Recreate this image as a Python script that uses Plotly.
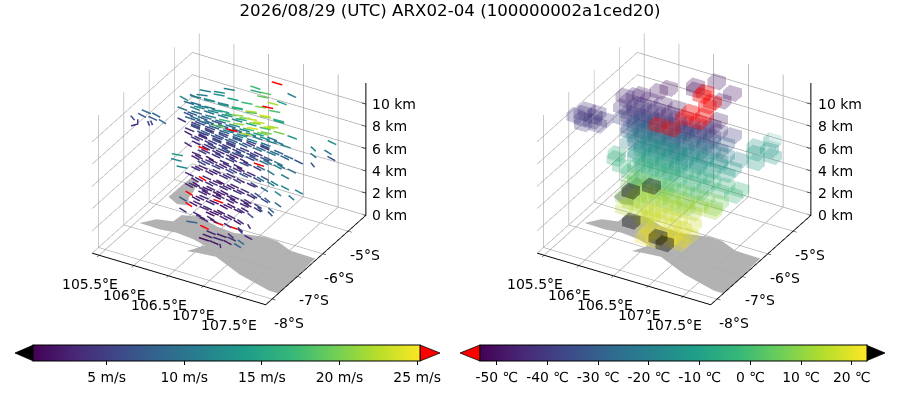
import math

import plotly.graph_objects as go

title = "2026/08/29 (UTC) ARX02-04 (100000002a1ced20)"

lon_ticks = [105.5, 106, 106.5, 107, 107.5]
lon_labels = ["105.5°E", "106°E", "106.5°E", "107°E", "107.5°E"]
lat_ticks = [-8, -7, -6, -5]
lat_labels = ["-8°S", "-7°S", "-6°S", "-5°S"]
alt_ticks = [0, 2, 4, 6, 8, 10]
alt_labels = ["0 km", "2 km", "4 km", "6 km", "8 km", "10 km"]
speed_ticks = [5, 10, 15, 20, 25]
speed_labels = ["5 m/s", "10 m/s", "15 m/s", "20 m/s", "25 m/s"]
temp_ticks = [-50, -40, -30, -20, -10, 0, 10, 20]
temp_labels = ["-50 ℃", "-40 ℃", "-30 ℃", "-20 ℃", "-10 ℃", "0 ℃", "10 ℃", "20 ℃"]

java_lon = [105.548, 105.684, 105.892, 105.907, 106.126, 106.423, 106.681, 107.053, 107.248, 107.508, 107.876,
            107.899, 107.893, 107.764, 107.246, 106.782, 106.545, 106.399, 106.523, 106.32, 106.062, 105.842]
java_lat = [-6.781, -6.49, -6.40, -6.106, -5.98, -6.135, -6.183, -6.017, -6.024, -6.213, -6.233,
            -7.3, -7.75, -7.75, -7.5, -7.15, -7.2, -7.25, -6.888, -6.789, -6.74, -6.797]
sumatra_lon = [105.545, 105.547, 105.56, 105.671, 105.749, 105.771, 105.866, 105.719]
sumatra_lat = [-5.631, -5.165, -4.731, -4.841, -5.193, -5.455, -5.721, -5.783]

# one list per altitude (km): lon, lat, speed m/s, wind direction deg from east, temperature C
cells_11 = [(106.57,-5.21,17,-5,-52),(106.62,-5.34,16,5,-51),(106.75,-5.32,19,10,-54),(107.06,-5.09,11,-20,-50),
            (106.31,-5.55,11,15,-50),(106.24,-5.75,13,20,-49),(106.09,-6.02,11,25,-48),(105.93,-6.24,12,-25,-47),
            (107.04,-5.45,15,-10,-53),(106.95,-5.58,22,5,-54),(106.76,-5.47,19,15,-55),(106.94,-5.76,26,10,-56),
            (106.75,-4.86,27,0,-50)]
cells_10 = [(105.9,-5.75,12,10,-45),(106.1,-5.75,13,15,-46),(106.3,-5.75,14,10,-47),(106.5,-5.75,16,20,-49),
            (106.7,-5.75,18,25,-56),(106.9,-5.75,21,20,-56),(107.1,-5.75,14,5,-48),
            (105.9,-6.0,9,-5,-44),(106.1,-6.0,11,5,-45),(106.3,-6.0,12,10,-46),(106.5,-6.0,16,15,-50),
            (106.7,-6.0,20,30,-56),(106.9,-6.0,23,25,-56),(107.1,-6.0,22,15,-49),
            (105.9,-6.25,10,-10,-44),(106.1,-6.25,9,0,-45),(106.3,-6.25,11,5,-46),(106.5,-6.25,17,10,-52),
            (106.7,-6.25,21,25,-50),(106.9,-6.25,24,20,-50),(107.1,-6.25,20,10,-48),
            (106.1,-6.5,8,-5,-43),(106.3,-6.5,9,0,-44),(106.5,-6.5,19,15,-56),(106.7,-6.5,26,10,-56),(106.9,-6.5,22,15,-46),
            (105.55,-6.85,8,-25,-42),(105.7,-6.85,7,-20,-42),(105.55,-6.7,9,-15,-43),(105.7,-6.7,8,-25,-42),
            (105.85,-6.85,9,-30,-41),(105.5,-7.0,6,-50,-41),(105.62,-7.05,4,-70,-40),(105.75,-7.02,5,-60,-40),
            (105.85,-7.1,5,120,-40),(105.68,-7.2,3,-110,-39)]
cells_9 = [(105.9,-5.75,11,-10,-40),(106.1,-5.75,10,-5,-40),(106.3,-5.75,11,-5,-41),(106.5,-5.75,12,0,-41),
           (106.7,-5.75,15,5,-42),(106.9,-5.75,18,10,-42),(107.1,-5.75,20,5,-41),(107.3,-5.75,13,-10,-40),
           (105.9,-6.0,7,-15,-39),(106.1,-6.0,8,-10,-39),(106.3,-6.0,7,-5,-40),(106.5,-6.0,9,-5,-40),
           (106.7,-6.0,11,0,-41),(106.9,-6.0,14,0,-41),(107.1,-6.0,10,-10,-40),
           (105.9,-6.25,4,-20,-38),(106.1,-6.25,5,-15,-38),(106.3,-6.25,6,-10,-39),(106.5,-6.25,8,-5,-39),
           (106.7,-6.25,10,-5,-40),(106.9,-6.25,11,-5,-40),(107.1,-6.25,9,-10,-39),
           (106.1,-6.5,4,-15,-38),(106.3,-6.5,5,-10,-38),(106.5,-6.5,6,-10,-38),(106.7,-6.5,7,-15,-38)]
cells_8 = [(106.0,-5.75,8,-15,-30),(106.2,-5.75,9,-10,-30),(106.4,-5.75,8,-15,-31),(106.6,-5.75,9,-10,-31),
           (106.8,-5.75,10,-10,-31),(107.0,-5.75,11,-5,-31),(107.2,-5.75,12,-5,-30),
           (106.0,-6.0,6,-15,-30),(106.2,-6.0,5,-15,-30),(106.4,-6.0,6,-15,-31),(106.6,-6.0,7,-10,-31),
           (106.8,-6.0,4,-20,-31),(107.0,-6.0,5,-15,-30),(107.2,-6.0,8,-15,-30),
           (106.0,-6.25,3,-25,-29),(106.2,-6.25,4,-15,-29),(106.4,-6.25,7,-15,-30),(106.6,-6.25,6,-15,-30),
           (106.8,-6.25,5,-15,-30),(107.0,-6.25,4,-20,-29),
           (106.2,-6.5,3,-20,-28),(106.4,-6.5,4,-20,-28),(106.6,-6.5,5,-15,-28),(106.8,-6.5,4,-15,-28)]
cells_7 = [(106.0,-5.75,7,-20,-20),(106.2,-5.75,8,-15,-20),(106.4,-5.75,9,-15,-21),(106.6,-5.75,8,-20,-21),
           (106.8,-5.75,9,-15,-21),(107.0,-5.75,10,-15,-20),(107.2,-5.75,8,-20,-20),(107.4,-5.75,7,-20,-19),
           (106.0,-6.0,4,-20,-20),(106.2,-6.0,5,-20,-20),(106.4,-6.0,6,-15,-20),(106.6,-6.0,5,-20,-21),
           (106.8,-6.0,6,-15,-20),(107.0,-6.0,7,-15,-20),(107.2,-6.0,10,-20,-19),
           (106.0,-6.25,3,-30,-19),(106.2,-6.25,26,-10,-19),(106.4,-6.25,4,-20,-19),(106.6,-6.25,5,-20,-20),
           (106.8,-6.25,4,-25,-19),(107.0,-6.25,26,-5,-19),
           (106.2,-6.5,3,-15,-18),(106.4,-6.5,2,-25,-18),(106.6,-6.5,4,-15,-18),(106.8,-6.5,3,-20,-18),
           (106.05,-6.92,12,5,-4),(106.2,-7.11,12,10,-3),(106.0,-6.75,14,15,-5)]
cells_6 = [(106.1,-5.75,6,-25,-12),(106.3,-5.75,7,-20,-12),(106.5,-5.75,8,-15,-13),(106.7,-5.75,6,-20,-12),
           (106.9,-5.75,9,-20,-12),(107.1,-5.75,11,-25,-12),(107.3,-5.75,9,-20,-11),
           (106.1,-6.0,5,-20,-12),(106.3,-6.0,4,-20,-12),(106.5,-6.0,5,-20,-12),(106.7,-6.0,6,-15,-12),
           (106.9,-6.0,5,-25,-12),(107.1,-6.0,10,-30,-11),(107.3,-6.0,11,-25,-11),
           (106.1,-6.25,3,-25,-11),(106.3,-6.25,4,-20,-11),(106.5,-6.25,3,-25,-11),(106.7,-6.25,4,-20,-11),
           (106.9,-6.25,4,-20,-11),(107.1,-6.25,7,-25,-10),
           (106.3,-6.5,3,-20,-10),(106.5,-6.5,3,-25,-10),(106.7,-6.5,4,-20,-10),
           (107.39,-4.41,12,-20,-12),(107.285,-4.78,11,-45,-13),(107.47,-4.76,10,-30,-12),(107.58,-4.94,7,-25,-11),
           (107.475,-5.31,7,-50,-11),(107.36,-5.0,10,-40,-10)]
cells_5 = [(106.1,-6.0,5,-25,-4),(106.3,-6.0,6,-20,-4),(106.5,-6.0,5,-25,-4),(106.7,-6.0,7,-20,-5),
           (106.9,-6.0,6,-25,-4),(107.1,-6.0,11,-30,-4),(107.3,-6.0,12,-25,-3),(107.5,-6.0,11,-25,-3),
           (106.1,-6.25,4,-20,-3),(106.3,-6.25,3,-25,-3),(106.5,-6.25,4,-20,-3),(106.7,-6.25,5,-25,-3),
           (106.9,-6.25,3,-20,-3),(107.1,-6.25,9,-30,-3),(107.3,-6.25,12,-35,-2),(107.5,-6.25,10,-40,-2),
           (106.1,-6.5,3,-20,-2),(106.3,-6.5,26,-30,-2),(106.5,-6.5,3,-15,-2),(106.7,-6.5,3,-25,-2),
           (106.9,-6.5,4,-20,-2),(107.1,-6.5,7,-35,-2),
           (106.3,-6.75,2,-30,-1),(106.5,-6.75,3,-20,24),(106.7,-6.75,2,-25,-1)]
cells_4 = [(106.1,-6.25,3,-30,5),(106.3,-6.25,4,-25,5),(106.5,-6.25,3,-20,5),(106.7,-6.25,4,-20,5),
           (106.9,-6.25,3,-25,5),(107.1,-6.25,6,-30,6),(107.3,-6.25,9,-35,6),
           (106.1,-6.5,3,-25,6),(106.3,-6.5,4,-15,6),(106.5,-6.5,2,-20,6),(106.7,-6.5,3,-20,6),
           (106.9,-6.5,3,-25,6),(107.1,-6.5,5,-30,7),(107.3,-6.5,8,-40,7),
           (106.2,-6.75,26,-30,24),(106.4,-6.75,3,-15,7),(106.6,-6.75,26,-10,7),(106.8,-6.75,2,-25,7),(107.0,-6.75,3,-30,7),
           (106.2,-7.0,7,-30,8),(106.4,-7.0,3,-20,8)]
cells_3 = [(106.2,-6.25,3,-20,13),(106.4,-6.25,2,-20,13),(106.6,-6.25,3,-25,13),(106.8,-6.25,3,-20,13),
           (107.0,-6.25,4,-30,13),(107.2,-6.25,7,-45,13),
           (106.2,-6.5,2,-25,13),(106.4,-6.5,3,-20,14),(106.6,-6.5,2,-25,14),(106.8,-6.5,3,-20,14),(107.0,-6.5,6,-40,14),
           (106.2,-6.75,26,-35,14),(106.4,-6.75,3,-15,15),(106.6,-6.75,2,-20,15),(106.8,-6.75,3,-25,15),
           (106.2,-7.0,4,-30,15),(106.4,-7.0,3,-25,15),(106.6,-7.0,3,-30,15)]
cells_2 = [(106.4,-6.5,2,-20,18),(106.6,-6.5,3,-25,18),(106.8,-6.5,2,-30,18),(107.0,-6.5,3,-55,18),
           (106.4,-6.75,3,-20,18),(106.6,-6.75,26,-10,19),(106.8,-6.75,26,-5,19),(106.95,-6.75,4,-45,19),
           (106.3,-7.0,8,20,25),(106.5,-7.0,26,-20,19),(107.1,-6.9,3,-25,19),(106.9,-7.0,4,-40,19)]
cells_1 = [(106.5,-6.75,3,-15,21),(106.65,-6.75,2,-10,21),(106.8,-6.75,4,-20,21),(106.95,-6.75,9,-35,21),
           (106.5,-6.9,2,-10,21),(106.65,-6.9,3,-5,24),(106.8,-6.9,2,-25,22),(106.95,-6.9,8,-30,22),
           (106.5,-7.05,1,-5,22),(106.65,-7.05,2,-15,22),(106.8,-7.05,3,-65,24)]

altitudes = [11, 10, 9, 8, 7, 6, 5, 4, 3, 2, 1]
levels = [cells_11, cells_10, cells_9, cells_8, cells_7, cells_6, cells_5, cells_4, cells_3, cells_2, cells_1]

# arrows between the cube levels: lon, lat, speed, direction
wind_10_5 = [(106.0,-5.65,11,15),(106.2,-5.65,13,15),(106.4,-5.65,14,10),(106.6,-5.65,17,15),(106.8,-5.65,20,20),(107.0,-5.65,18,15),
             (105.95,-5.9,10,-15),(106.15,-5.9,12,5),(106.35,-5.9,12,10),(106.55,-5.9,16,15),(106.75,-5.9,22,25),(106.95,-5.9,24,20),(107.15,-5.9,16,5),
             (106.05,-6.15,10,0),(106.25,-6.15,11,5),(106.45,-6.15,15,10),(106.65,-6.15,21,20),(106.85,-6.15,23,20)]
wind_9_5 = [(106.0,-5.88,13,5),(106.2,-5.88,12,5),(106.4,-5.88,13,10),(106.6,-5.88,15,15),(106.8,-5.88,21,20),(107.0,-5.88,23,15),
            (106.0,-6.13,8,-10),(106.2,-6.13,9,-5),(106.4,-6.13,9,0),(106.6,-6.13,13,5),(106.8,-6.13,18,10),(107.0,-6.13,20,10),
            (106.2,-6.38,6,-10),(106.4,-6.38,8,-5),(106.6,-6.38,12,0),(106.8,-6.38,13,0)]
wind_8_5 = [(105.95,-5.88,10,-10),(106.15,-5.88,9,-10),(106.35,-5.88,9,-5),(106.55,-5.88,10,-5),(106.75,-5.88,11,-5),(106.95,-5.88,13,-5),(107.15,-5.88,10,-10),
            (106.05,-6.13,6,-15),(106.25,-6.13,5,-15),(106.45,-6.13,6,-10),(106.65,-6.13,8,-10),(106.85,-6.13,7,-10),(107.05,-6.13,6,-15),
            (106.25,-6.38,3,-20),(106.45,-6.38,5,-15),(106.65,-6.38,4,-15)]
wind_7_5 = [(106.1,-5.88,8,-15),(106.3,-5.88,7,-15),(106.5,-5.88,8,-15),(106.7,-5.88,7,-15),(106.9,-5.88,9,-15),(107.1,-5.88,10,-15),(107.3,-5.88,9,-15),
            (106.1,-6.13,5,-20),(106.3,-6.13,5,-20),(106.5,-6.13,4,-20),(106.7,-6.13,6,-15),(106.9,-6.13,5,-20),(107.1,-6.13,7,-20),
            (106.3,-6.38,3,-25),(106.5,-6.38,4,-20),(106.7,-6.38,3,-20)]
wind_6_5 = [(106.2,-5.88,6,-20),(106.4,-5.88,7,-20),(106.6,-5.88,8,-20),(106.8,-5.88,7,-20),(107.0,-5.88,10,-20),(107.2,-5.88,11,-25),
            (106.2,-6.13,4,-20),(106.4,-6.13,5,-20),(106.6,-6.13,4,-25),(106.8,-6.13,5,-20),(107.0,-6.13,8,-25),
            (106.2,-6.38,3,-25),(106.4,-6.38,3,-20),(106.6,-6.38,4,-20),(106.8,-6.38,3,-25)]
wind_5_5 = [(106.2,-6.13,5,-20),(106.4,-6.13,4,-20),(106.6,-6.13,6,-25),(106.8,-6.13,5,-20),(107.0,-6.13,9,-30),(107.2,-6.13,11,-30),
            (106.2,-6.38,3,-25),(106.4,-6.38,3,-20),(106.6,-6.38,4,-20),(106.8,-6.38,3,-25),(107.0,-6.38,6,-30),
            (106.4,-6.63,3,-20),(106.6,-6.63,2,-25),(106.8,-6.63,3,-20)]
wind_4_5 = [(106.2,-6.38,3,-25),(106.4,-6.38,4,-20),(106.6,-6.38,3,-20),(106.8,-6.38,3,-25),(107.0,-6.38,6,-35),(107.2,-6.38,8,-40),
            (106.2,-6.63,3,-20),(106.4,-6.63,2,-15),(106.6,-6.63,3,-20),(106.8,-6.63,3,-20),(107.0,-6.63,4,-30)]
wind_3_5 = [(106.3,-6.38,2,-20),(106.5,-6.38,3,-20),(106.7,-6.38,3,-25),(106.9,-6.38,3,-25),(107.1,-6.38,6,-45),
            (106.3,-6.63,3,-20),(106.5,-6.63,2,-15),(106.7,-6.63,3,-20),(106.9,-6.63,4,-30),
            (106.3,-6.88,3,-25),(106.5,-6.88,3,-20),(106.7,-6.88,2,-25)]
wind_2_5 = [(106.5,-6.63,2,-15),(106.7,-6.63,3,-20),(106.9,-6.63,3,-35),
            (106.4,-6.88,3,-20),(106.6,-6.88,2,-25),(106.8,-6.88,3,-30),(107.0,-6.88,5,-45)]
wind_altitudes = [10.5, 9.5, 8.5, 7.5, 6.5, 5.5, 4.5, 3.5, 2.5]
wind_levels = [wind_10_5, wind_9_5, wind_8_5, wind_7_5, wind_6_5, wind_5_5, wind_4_5, wind_3_5, wind_2_5]

speed_min, speed_max = 0.28, 25.2
temp_min, temp_max = -53.4, 22.9
arrow_len = 0.15
cube_dx, cube_dy, cube_dz = 0.09, 0.125, 0.35


def wind_lines(keep):
    xs, ys, zs, cs = [], [], [], []
    rows = [(z, c) for z, cells in zip(altitudes, levels) for c in cells]
    rows += [(z, c) for z, cells in zip(wind_altitudes, wind_levels) for c in cells]
    for z, cell in rows:
        lon, lat, spd, deg = cell[:4]
        if not keep(spd):
            continue
        rad = math.radians(deg)
        xs += [lon, lon + arrow_len * math.cos(rad), None]
        ys += [lat, lat + arrow_len * math.sin(rad), None]
        zs += [z, z, None]
        cs += [spd, spd, spd]
    return xs, ys, zs, cs


def cube_mesh(keep):
    xs, ys, zs, ii, jj, kk, cs = [], [], [], [], [], [], []
    faces = [(0, 1, 2), (0, 2, 3), (4, 5, 6), (4, 6, 7), (0, 1, 5), (0, 5, 4),
             (1, 2, 6), (1, 6, 5), (2, 3, 7), (2, 7, 6), (3, 0, 4), (3, 4, 7)]
    for z, cells in zip(altitudes, levels):
        for lon, lat, spd, deg, tmp in cells:
            if not keep(tmp):
                continue
            n = len(xs)
            for dz in (-cube_dz, cube_dz):
                for dx, dy in ((-cube_dx, -cube_dy), (cube_dx, -cube_dy), (cube_dx, cube_dy), (-cube_dx, cube_dy)):
                    xs.append(lon + dx)
                    ys.append(lat + dy)
                    zs.append(z + dz)
            for a, b, c in faces:
                ii.append(n + a)
                jj.append(n + b)
                kk.append(n + c)
                cs.append(tmp)
    return xs, ys, zs, ii, jj, kk, cs


def ear_clip(lon, lat):
    idx = list(range(len(lon)))
    area = sum(lon[i - 1] * lat[i] - lon[i] * lat[i - 1] for i in idx)
    sign = 1 if area > 0 else -1

    def cross(a, b, c):
        return (lon[b] - lon[a]) * (lat[c] - lat[a]) - (lon[c] - lon[a]) * (lat[b] - lat[a])

    tris = []
    while len(idx) > 3:
        for n in range(len(idx)):
            a, b, c = idx[n - 1], idx[n], idx[(n + 1) % len(idx)]
            if cross(a, b, c) * sign <= 0:
                continue
            if any(cross(a, b, p) * sign > 0 and cross(b, c, p) * sign > 0 and cross(c, a, p) * sign > 0
                   for p in idx if p not in (a, b, c)):
                continue
            tris.append((a, b, c))
            idx.pop(n)
            break
        else:
            break
    tris.append(tuple(idx[:3]))
    return tris


def land(lon, lat, scene):
    tris = ear_clip(lon, lat)
    return go.Mesh3d(x=lon, y=lat, z=[0] * len(lon), i=[t[0] for t in tris], j=[t[1] for t in tris],
                     k=[t[2] for t in tris], color="#b2b2b2", flatshading=True, hoverinfo="skip", scene=scene,
                     lighting=dict(ambient=1, diffuse=0, specular=0, fresnel=0))


def z_axis(scene):
    # plotly puts the z axis on the left at this view, the reference has it at the back right
    xs = [107.9, 107.9, None]
    ys = [-4.3, -4.3, None]
    zs = [0, 11.9, None]
    for t in alt_ticks:
        xs += [107.84, 107.9, None]
        ys += [-4.3, -4.3, None]
        zs += [t, t, None]
    return go.Scatter3d(x=xs, y=ys, z=zs, mode="lines", line=dict(color="black", width=2), hoverinfo="skip", scene=scene)


def tick_labels():
    font = dict(family="DejaVu Sans", size=14, color="black")
    notes = []
    for t, s in zip(lon_ticks, lon_labels):
        notes.append(dict(x=t, y=-8.25, z=0, text=s, showarrow=False, xshift=-9, yshift=-29, font=font))
    for t, s in zip(lat_ticks, lat_labels):
        notes.append(dict(x=107.9, y=t, z=0, text=s, showarrow=False, xshift=17, yshift=-24, font=font))
    for t, s in zip(alt_ticks, alt_labels):
        notes.append(dict(x=107.9, y=-4.3, z=t, text=s, showarrow=False, xanchor="left", xshift=5, font=font))
    return notes


def axis(ticks, labels, low, high, native=True):
    return dict(range=[low, high], tickvals=ticks, ticktext=labels, title="", showbackground=False,
                gridcolor="#a8a8a8", gridwidth=1.5, showline=native, linecolor="black", linewidth=2,
                ticks="outside" if native else "", ticklen=4, tickcolor="black", zeroline=False, showspikes=False,
                showticklabels=False)


def scene(x0, x1):
    return dict(domain=dict(x=[x0, x1], y=[0.16, 1.0]),
                xaxis=axis(lon_ticks, lon_labels, 105.4, 107.9),
                yaxis=axis(lat_ticks, lat_labels, -8.25, -4.3),
                zaxis=axis(alt_ticks, alt_labels, 0, 11.9, native=False),
                aspectmode="manual", aspectratio=dict(x=1.193, y=1.193, z=0.92),
                annotations=tick_labels(),
                camera=dict(projection=dict(type="orthographic"), up=dict(x=0, y=0, z=1),
                            center=dict(x=0, y=0, z=0),
                            eye=dict(x=0.514, y=-0.891, z=0.618)))


def colorbar(ticks, labels, centre):
    return dict(orientation="h", x=centre, xanchor="center", y=0.1375, yanchor="top", lenmode="pixels", len=386.5,
                thickness=16, xpad=0, ypad=0, outlinewidth=1, outlinecolor="black", ticks="outside", ticklen=4,
                tickmode="array", tickvals=ticks, ticktext=labels, tickcolor="black",
                tickfont=dict(family="DejaVu Sans", size=13.9, color="black"))


def triangle(tip, base, color):
    return dict(type="path", xref="paper", yref="paper", fillcolor=color, line=dict(color="black", width=0.8),
                path=f"M {base / 900} 0.0975 L {tip / 900} 0.1175 L {base / 900} 0.1375 Z")


cube_light = dict(ambient=0.9, diffuse=0.2, specular=0, fresnel=0)

fig = go.Figure()
for sc in ["scene", "scene2"]:
    fig.add_trace(land(java_lon, java_lat, sc))
    fig.add_trace(land(sumatra_lon, sumatra_lat, sc))
    fig.add_trace(z_axis(sc))

xs, ys, zs, cs = wind_lines(lambda s: s <= speed_max)
fig.add_trace(go.Scatter3d(x=xs, y=ys, z=zs, mode="lines", hoverinfo="skip", scene="scene",
                           line=dict(color=cs, colorscale="Viridis", cmin=speed_min, cmax=speed_max, width=3,
                                     showscale=True, colorbar=colorbar(speed_ticks, speed_labels, 226.75 / 900))))
xs, ys, zs, cs = wind_lines(lambda s: s > speed_max)
fig.add_trace(go.Scatter3d(x=xs, y=ys, z=zs, mode="lines", hoverinfo="skip", scene="scene",
                           line=dict(color="red", width=3)))

xs, ys, zs, ii, jj, kk, cs = cube_mesh(lambda t: temp_min <= t <= temp_max)
fig.add_trace(go.Mesh3d(x=xs, y=ys, z=zs, i=ii, j=jj, k=kk, intensity=cs, intensitymode="cell", colorscale="Viridis",
                        cmin=temp_min, cmax=temp_max, opacity=0.16, flatshading=True, hoverinfo="skip", scene="scene2",
                        lighting=cube_light, showscale=True, colorbar=colorbar(temp_ticks, temp_labels, 673 / 900)))
xs, ys, zs, ii, jj, kk, cs = cube_mesh(lambda t: t < temp_min)
fig.add_trace(go.Mesh3d(x=xs, y=ys, z=zs, i=ii, j=jj, k=kk, color="red", opacity=0.22, flatshading=True,
                        hoverinfo="skip", scene="scene2", lighting=cube_light))
xs, ys, zs, ii, jj, kk, cs = cube_mesh(lambda t: t > temp_max)
fig.add_trace(go.Mesh3d(x=xs, y=ys, z=zs, i=ii, j=jj, k=kk, color="black", opacity=0.22, flatshading=True,
                        hoverinfo="skip", scene="scene2", lighting=cube_light))

fig.update_layout(width=900, height=400, margin=dict(l=0, r=0, t=0, b=0), paper_bgcolor="white",
                  title=dict(text=title, x=0.5, y=0.975, xanchor="center", yanchor="middle", pad=dict(t=0, b=0),
                             font=dict(family="DejaVu Sans", size=16.67, color="black")),
                  scene=scene(0.004, 0.504), scene2=scene(0.499, 0.999), showlegend=False,
                  shapes=[triangle(15, 33.5, "black"), triangle(440, 420, "red"),
                          triangle(460, 480, "red"), triangle(885, 866, "black")])
# the page body has a default 8px margin, which would push everything off the reference
fig.write_html("out.html", config={"displayModeBar": False}, post_script="document.body.style.margin='0';")
